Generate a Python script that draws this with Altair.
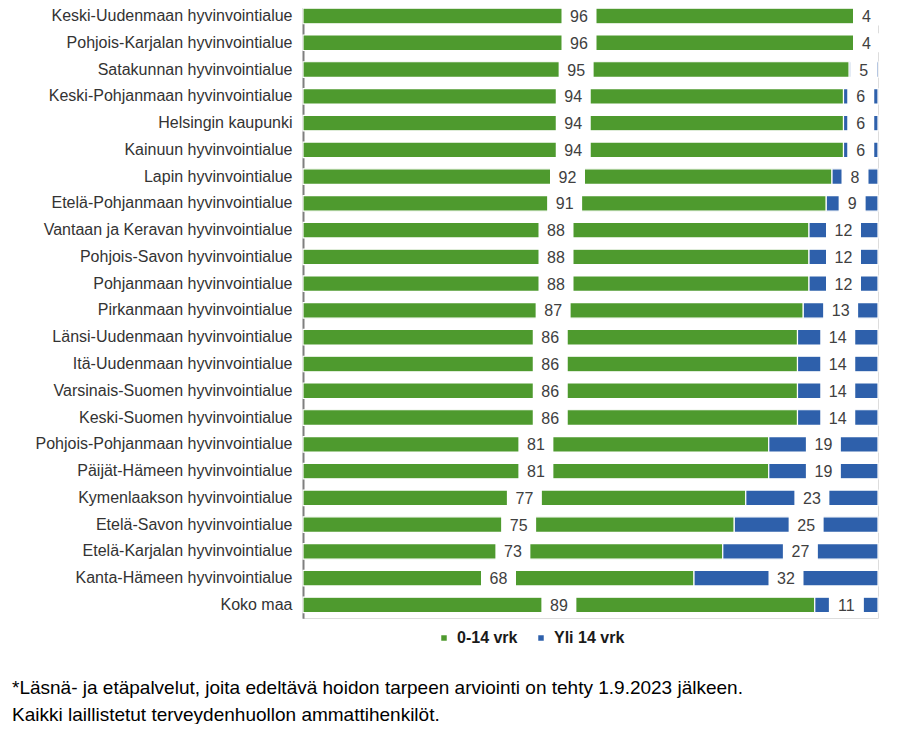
import altair as alt
import pandas as pd

regions = [
    "Keski-Uudenmaan hyvinvointialue",
    "Pohjois-Karjalan hyvinvointialue",
    "Satakunnan hyvinvointialue",
    "Keski-Pohjanmaan hyvinvointialue",
    "Helsingin kaupunki",
    "Kainuun hyvinvointialue",
    "Lapin hyvinvointialue",
    "Etelä-Pohjanmaan hyvinvointialue",
    "Vantaan ja Keravan hyvinvointialue",
    "Pohjois-Savon hyvinvointialue",
    "Pohjanmaan hyvinvointialue",
    "Pirkanmaan hyvinvointialue",
    "Länsi-Uudenmaan hyvinvointialue",
    "Itä-Uudenmaan hyvinvointialue",
    "Varsinais-Suomen hyvinvointialue",
    "Keski-Suomen hyvinvointialue",
    "Pohjois-Pohjanmaan hyvinvointialue",
    "Päijät-Hämeen hyvinvointialue",
    "Kymenlaakson hyvinvointialue",
    "Etelä-Savon hyvinvointialue",
    "Etelä-Karjalan hyvinvointialue",
    "Kanta-Hämeen hyvinvointialue",
    "Koko maa",
]
within_14 = [96, 96, 95, 94, 94, 94, 92, 91, 88, 88, 88, 87, 86, 86, 86, 86, 81, 81, 77, 75, 73, 68, 89]
over_14 = [4, 4, 5, 6, 6, 6, 8, 9, 12, 12, 12, 13, 14, 14, 14, 14, 19, 19, 23, 25, 27, 32, 11]
series = ["0-14 vrk", "Yli 14 vrk"]
colors = ["#4E9A2E", "#2E60AB"]
footnote = [
    "*Läsnä- ja etäpalvelut, joita edeltävä hoidon tarpeen arviointi on tehty 1.9.2023 jälkeen.",
    "Kaikki laillistetut terveydenhuollon ammattihenkilöt.",
]

rows = []
for r, a, b in zip(regions, within_14, over_14):
    rows.append({"region": r, "series": series[0], "value": a, "start": 0, "end": a})
    rows.append({"region": r, "series": series[1], "value": b, "start": a, "end": a + b})
df = pd.DataFrame(rows)

W = 575
H = 610
PX_PER_UNIT = W / 100.0

base = alt.Chart(df).transform_calculate(
    mid="(datum.start + datum.end) / 2",
    hw="(length(toString(datum.value)) > 1 ? 17.5 : 13.5) / " + str(PX_PER_UNIT),
).transform_calculate(
    lo="datum.mid - datum.hw",
    hi="datum.mid + datum.hw",
)

yenc = alt.Y(
    "region:N",
    sort=regions,
    title=None,
    scale=alt.Scale(range=[-5.4, 610.3], paddingInner=0.42, paddingOuter=0.21),
    axis=alt.Axis(
        ticks=False,
        grid=False,
        domainColor="#7f7f7f",
        domainWidth=2,
        labelFont="Liberation Sans",
        labelFontSize=16,
        labelColor="#333333",
        labelPadding=11,
        labelLimit=400,
    ),
)
xscale = alt.Scale(domain=[0, 100], nice=False, zero=True)

bars = base.mark_bar(stroke="white", strokeWidth=1.2).encode(
    y=yenc,
    x=alt.X("start:Q", scale=xscale, axis=None),
    x2="end:Q",
    color=alt.Color(
        "series:N",
        scale=alt.Scale(domain=series, range=colors),
        legend=alt.Legend(
            title=None,
            orient="none",
            legendX=133,
            legendY=622,
            direction="horizontal",
            symbolType="square",
            symbolSize=30,
            symbolStrokeWidth=0,
            labelFont="Liberation Sans",
            labelFontSize=16,
            labelFontWeight="bold",
            labelColor="#1a1a1a",
            columnPadding=15,
            labelOffset=5,
        ),
    ),
)

boxes = base.mark_bar(color="white", size=19).encode(
    y=alt.Y("region:N", sort=regions),
    x=alt.X("lo:Q", scale=xscale),
    x2="hi:Q",
)

labels = base.mark_text(
    font="Liberation Sans", fontSize=16, color="#404040", baseline="middle", align="center", dy=1
).encode(
    y=alt.Y("region:N", sort=regions),
    x=alt.X("mid:Q", scale=xscale),
    text="value:Q",
)

chart = (
    alt.layer(bars, boxes, labels)
    .properties(
        width=W,
        height=H,
        autosize=alt.AutoSizeParams(type="none"),
        padding={"left": 295, "top": 0, "right": 8, "bottom": 106},
        title=alt.TitleParams(
            text=footnote,
            orient="bottom",
            anchor="start",
            frame="group",
            dx=-291,
            offset=33,
            font="Liberation Sans",
            fontSize=19,
            fontWeight="normal",
            color="#000000",
            lineHeight=27,
        ),
    )
    .configure_view(stroke=None)
    .configure(background="white")
)

chart.save("out.html", embed_options={"renderer": "svg", "actions": False})
